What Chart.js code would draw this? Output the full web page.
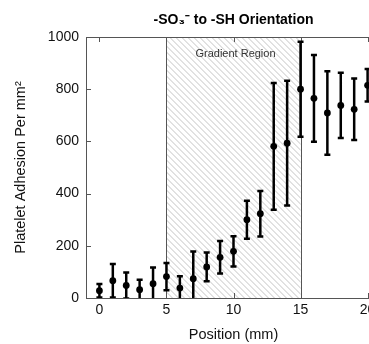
<!DOCTYPE html>
<html>
<head>
<meta charset="utf-8">
<script src="https://cdn.jsdelivr.net/npm/chart.js@4.4.1/dist/chart.umd.min.js"></script>
<style>
  html, body { margin: 0; padding: 0; background: #fff; overflow: hidden; }
  #wrap { width: 400px; height: 344px; }
</style>
</head>
<body>
<div id="wrap"><canvas id="c" width="400" height="344"></canvas></div>
<script>
// ---- data ----
const positions = [0, 1, 2, 3, 4, 5, 6, 7, 8, 9, 10, 11, 12, 13, 14, 15, 16, 17, 18, 19, 20];
const adhesion  = [28, 66, 48, 32, 55, 82, 38, 74, 119, 156, 179, 300, 323, 581, 593, 800, 765, 709, 738, 723, 815];
const errors    = [26, 64, 50, 38, 62, 52, 45, 104, 55, 62, 58, 73, 87, 243, 239, 182, 166, 160, 125, 118, 62];
const xTicks = [0, 5, 10, 15, 20];
const yTicks = [0, 200, 400, 600, 800, 1000];
const gradientStart = 5;
const gradientEnd = 15;
const gradientLabel = 'Gradient Region';

const FONT = "'Liberation Sans', Arial, Helvetica, sans-serif";
const AXIS_COLOR = '#555';

const overlay = {
  id: 'overlay',
  beforeDatasetsDraw(chart) {
    const {ctx, chartArea: a, scales: {x, y}} = chart;
    const xs = x.getPixelForValue(gradientStart);
    const xe = x.getPixelForValue(gradientEnd);
    // hatch
    ctx.save();
    ctx.beginPath();
    ctx.rect(xs, a.top, xe - xs, a.bottom - a.top);
    ctx.clip();
    ctx.strokeStyle = '#c4c4c4';
    ctx.lineWidth = 1;
    ctx.beginPath();
    const h = a.bottom - a.top;
    for (let px = xs - h; px < xe + 1; px += 6) {
      ctx.moveTo(px, a.top);
      ctx.lineTo(px + h, a.bottom);
    }
    ctx.stroke();
    ctx.restore();
    // region borders
    ctx.save();
    ctx.strokeStyle = AXIS_COLOR;
    ctx.lineWidth = 1;
    ctx.beginPath();
    [xs, xe].forEach(px => {
      const p = Math.round(px) + 0.5;
      ctx.moveTo(p, a.top);
      ctx.lineTo(p, a.bottom);
    });
    // top border
    ctx.moveTo(a.left, Math.round(a.top) + 0.5);
    ctx.lineTo(a.right, Math.round(a.top) + 0.5);
    // inward ticks
    xTicks.forEach(v => {
      const p = Math.round(x.getPixelForValue(v)) + 0.5;
      ctx.moveTo(p, a.bottom); ctx.lineTo(p, a.bottom - 5);
      ctx.moveTo(p, a.top); ctx.lineTo(p, a.top + 5);
    });
    yTicks.forEach(v => {
      const p = Math.round(y.getPixelForValue(v)) + 0.5;
      ctx.moveTo(a.left, p); ctx.lineTo(a.left + 5, p);
    });
    ctx.stroke();
    // label
    ctx.fillStyle = '#333';
    ctx.font = '11px ' + FONT;
    ctx.textAlign = 'center';
    ctx.textBaseline = 'middle';
    ctx.fillText(gradientLabel, (xs + xe) / 2 + 2, y.getPixelForValue(934));
    ctx.restore();
    // error bars
    ctx.save();
    ctx.beginPath();
    ctx.rect(a.left, a.top, a.right - a.left, a.bottom - a.top);
    ctx.clip();
    ctx.strokeStyle = '#000';
    ctx.lineWidth = 2.5;
    ctx.beginPath();
    positions.forEach((p, i) => {
      const px = x.getPixelForValue(p);
      const yt = y.getPixelForValue(adhesion[i] + errors[i]);
      const yb = y.getPixelForValue(adhesion[i] - errors[i]);
      ctx.moveTo(px, yt); ctx.lineTo(px, yb);
      ctx.moveTo(px - 3, yt); ctx.lineTo(px + 3, yt);
      ctx.moveTo(px - 3, yb); ctx.lineTo(px + 3, yb);
    });
    ctx.stroke();
    ctx.restore();
  }
};

new Chart(document.getElementById('c'), {
  type: 'scatter',
  data: {
    datasets: [{
      data: positions.map((p, i) => ({x: p, y: adhesion[i]})),
      backgroundColor: '#000',
      borderColor: '#000',
      pointRadius: 3.4,
      pointHoverRadius: 3.4,
      borderWidth: 0
    }]
  },
  options: {
    responsive: false,
    animation: false,
    devicePixelRatio: 1,
    layout: { padding: { left: 0, right: 19, top: 0, bottom: 0 } },
    plugins: {
      legend: { display: false },
      tooltip: { enabled: false },
      title: {
        display: true,
        text: '-SO\u2083\u207B to -SH Orientation',
        fullSize: false,
        color: '#000',
        font: { family: FONT, size: 14, weight: 'bold', lineHeight: 1.2 },
        padding: { top: 12, bottom: 8.2 }
      }
    },
    scales: {
      x: {
        type: 'linear',
        min: -1,
        max: 21,
        afterBuildTicks: s => { s.ticks = xTicks.map(v => ({value: v})); },
        afterFit: s => { s.height = 46; },
        grid: { display: false, drawTicks: false },
        border: { display: true, color: AXIS_COLOR, width: 1 },
        ticks: { color: '#111', padding: 4, font: { family: FONT, size: 14 }, autoSkip: false, maxRotation: 0,
                 callback: v => String(v) },
        title: {
          display: true, text: 'Position (mm)', color: '#111',
          font: { family: FONT, size: 14.5, lineHeight: 1.2 },
          padding: { top: 0, bottom: 0 }
        }
      },
      y: {
        type: 'linear',
        min: 0,
        max: 1000,
        afterBuildTicks: s => { s.ticks = yTicks.map(v => ({value: v})); },
        afterFit: s => { s.width = 86; },
        grid: { display: false, drawTicks: false },
        border: { display: true, color: AXIS_COLOR, width: 1 },
        ticks: { color: '#111', padding: 7, font: { family: FONT, size: 14 }, callback: v => String(v) },
        title: {
          display: true, text: 'Platelet Adhesion Per mm\u00B2', color: '#111',
          font: { family: FONT, size: 14.5, lineHeight: 1.2 },
          padding: { top: 12.3, bottom: 0 }
        }
      }
    }
  },
  plugins: [overlay]
});
</script>
</body>
</html>
